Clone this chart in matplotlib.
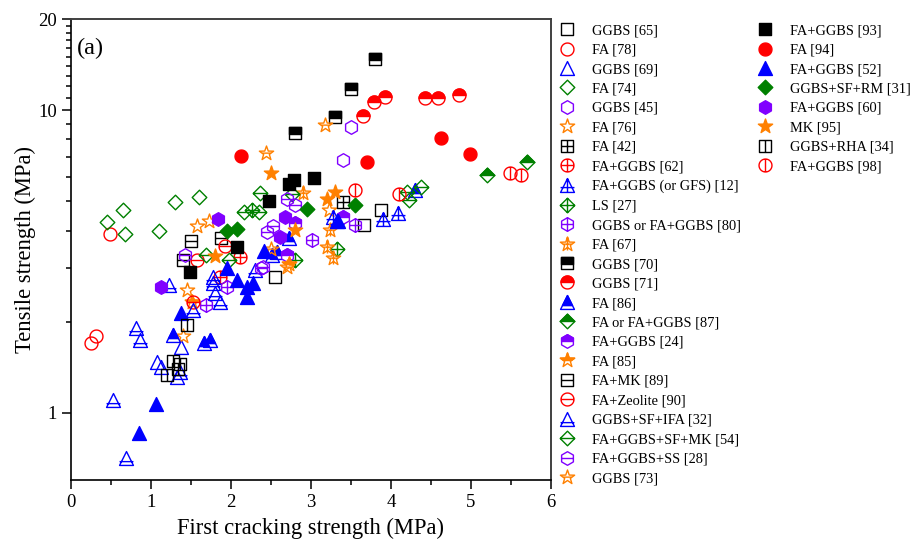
import numpy as np
import matplotlib
matplotlib.use("Agg")
import matplotlib.pyplot as plt
from matplotlib.path import Path
from matplotlib.markers import MarkerStyle
from matplotlib.ticker import FixedLocator, FixedFormatter, NullFormatter, MultipleLocator

plt.rcParams['font.family'] = ['Liberation Serif', 'DejaVu Serif']

# ---------------------------------------------------------------- data
# first cracking strength (MPa) / tensile strength (MPa) per source
x_ggbs65 = [2.55, 3.66, 3.88]
y_ggbs65 = [2.81, 4.17, 4.67]
x_fa78 = [0.25, 0.31, 0.49]
y_fa78 = [1.70, 1.79, 3.89]
x_ggbs69 = [1.07, 1.13, 1.37, 1.32]
y_ggbs69 = [1.47, 1.42, 1.65, 1.31]
x_fa74 = [0.45, 0.65, 0.68, 1.10, 1.30, 1.60]
y_fa74 = [4.27, 4.67, 3.89, 3.98, 4.98, 5.15]
x_ggbs45 = [3.40, 3.50]
y_ggbs45 = [6.84, 8.77]
x_fa76 = [1.57, 1.73, 1.45, 1.40, 3.22]
y_fa76 = [4.14, 4.30, 2.54, 1.79, 4.67]
x_fa42 = [3.40]
y_fa42 = [4.98]
x_fagg62 = [2.11, 1.86]
y_fagg62 = [3.27, 2.81]
x_fagg12 = [3.28, 3.90, 4.09]
y_fagg12 = [4.44, 4.38, 4.56]
x_ls27 = [2.80, 3.32, 2.26]
y_ls27 = [3.19, 3.49, 4.67]
x_gg80 = [1.69, 1.95, 3.01, 3.55]
y_gg80 = [2.27, 2.61, 3.72, 4.17]
x_fa67 = [2.90, 3.24, 3.20, 3.28]
y_fa67 = [5.31, 4.02, 3.53, 3.24]
x_ggbs70 = [2.80, 3.30, 3.50, 3.80]
y_ggbs70 = [8.38, 9.46, 11.7, 14.8]
x_ggbs71 = [3.65, 3.79, 3.93, 4.43, 4.59, 4.85]
y_ggbs71 = [9.55, 10.63, 11.07, 10.93, 10.93, 11.2]
x_fa86 = [1.27, 1.66, 1.74, 2.51, 2.57, 2.72, 4.30]
y_fa86 = [1.81, 1.70, 1.74, 3.32, 3.40, 3.77, 5.44]
x_fa87 = [5.20, 5.70]
y_fa87 = [6.09, 6.75]
x_fagg24 = [2.80, 2.70, 3.40]
y_fagg24 = [4.24, 3.32, 4.44]
x_fa85 = [1.51, 2.72]
y_fa85 = [2.33, 3.10]
x_famk89 = [1.50, 1.40, 1.88]
y_famk89 = [3.69, 3.19, 3.77]
x_faze90 = [1.57, 1.93, 1.53]
y_faze90 = [3.19, 3.56, 2.33]
x_gsi32 = [0.52, 0.69, 0.81, 0.86, 1.22, 1.36, 1.53, 1.77, 1.78, 1.80, 1.86, 2.30, 3.33]
y_gsi32 = [1.10, 0.71, 1.90, 1.74, 2.64, 1.36, 2.18, 2.81, 2.68, 2.48, 2.33, 2.96, 4.30]
x_fgsm54 = [1.69, 1.97, 2.16, 2.35, 2.36, 2.76, 4.20, 4.22, 4.38]
y_fgsm54 = [3.32, 3.21, 4.61, 4.61, 5.31, 5.30, 5.37, 5.04, 5.58]
x_fgss28 = [1.43, 2.37, 2.40, 2.45, 2.53, 2.70, 2.80]
y_fgss28 = [3.32, 3.00, 3.03, 3.96, 4.15, 5.07, 4.86]
x_ggbs73 = [2.44, 3.18, 2.50, 2.70]
y_ggbs73 = [7.19, 8.90, 3.49, 3.03]
x_fagg93 = [1.49, 2.08, 2.48, 2.73, 2.79, 3.04]
y_fagg93 = [2.93, 3.52, 5.00, 5.70, 5.87, 5.95]
x_fa94 = [2.13, 3.70, 4.63, 4.99]
y_fa94 = [7.06, 6.75, 8.06, 7.14]
x_fagg52 = [0.85, 1.06, 1.38, 1.95, 2.08, 2.20, 2.20, 2.28, 2.41, 3.34]
y_fagg52 = [0.86, 1.07, 2.13, 3.00, 2.74, 2.61, 2.42, 2.68, 3.43, 4.30]
x_gsr31 = [1.95, 2.07, 2.95, 3.55]
y_gsr31 = [4.00, 4.05, 4.73, 4.86]
x_fagg60 = [1.13, 1.84, 2.61, 2.68]
y_fagg60 = [2.60, 4.36, 3.81, 4.44]
x_mk95 = [1.80, 2.50, 2.80, 3.20, 3.30]
y_mk95 = [3.29, 6.18, 4.02, 5.07, 5.37]
x_gr34 = [1.20, 1.28, 1.34, 1.36, 1.45]
y_gr34 = [1.33, 1.48, 1.40, 1.45, 1.95]
x_fagg98 = [3.55, 4.10, 5.49, 5.62]
y_fagg98 = [5.44, 5.27, 6.21, 6.10]

x_ticks = [0, 1, 2, 3, 4, 5, 6]
y_ticks = [1, 10, 20]
y_ticklabels = ['1', '10', '20']

BLACK, RED, BLUE = '#000000', '#FF0000', '#0000FF'
GREEN, PURPLE, ORANGE = '#008000', '#8000FF', '#FF8000'

# (label, x, y, shape, style, colour) in drawing order
series = [
    ('GGBS [65]', x_ggbs65, y_ggbs65, 'square', 'open', BLACK),
    ('FA [78]', x_fa78, y_fa78, 'circle', 'open', RED),
    ('GGBS [69]', x_ggbs69, y_ggbs69, 'triangle', 'open', BLUE),
    ('FA [74]', x_fa74, y_fa74, 'diamond', 'open', GREEN),
    ('GGBS [45]', x_ggbs45, y_ggbs45, 'hexagon', 'open', PURPLE),
    ('FA [76]', x_fa76, y_fa76, 'star', 'open', ORANGE),
    ('FA [42]', x_fa42, y_fa42, 'square', 'cross', BLACK),
    ('FA+GGBS [62]', x_fagg62, y_fagg62, 'circle', 'cross', RED),
    ('FA+GGBS (or GFS) [12]', x_fagg12, y_fagg12, 'triangle', 'cross', BLUE),
    ('LS [27]', x_ls27, y_ls27, 'diamond', 'cross', GREEN),
    ('GGBS or FA+GGBS [80]', x_gg80, y_gg80, 'hexagon', 'cross', PURPLE),
    ('FA [67]', x_fa67, y_fa67, 'star', 'cross', ORANGE),
    ('GGBS [70]', x_ggbs70, y_ggbs70, 'square', 'half', BLACK),
    ('GGBS [71]', x_ggbs71, y_ggbs71, 'circle', 'half', RED),
    ('FA [86]', x_fa86, y_fa86, 'triangle', 'half', BLUE),
    ('FA or FA+GGBS [87]', x_fa87, y_fa87, 'diamond', 'half', GREEN),
    ('FA+GGBS [24]', x_fagg24, y_fagg24, 'hexagon', 'half', PURPLE),
    ('FA [85]', x_fa85, y_fa85, 'star', 'half', ORANGE),
    ('FA+MK [89]', x_famk89, y_famk89, 'square', 'hline', BLACK),
    ('FA+Zeolite [90]', x_faze90, y_faze90, 'circle', 'hline', RED),
    ('GGBS+SF+IFA [32]', x_gsi32, y_gsi32, 'triangle', 'hline', BLUE),
    ('FA+GGBS+SF+MK [54]', x_fgsm54, y_fgsm54, 'diamond', 'hline', GREEN),
    ('FA+GGBS+SS [28]', x_fgss28, y_fgss28, 'hexagon', 'hline', PURPLE),
    ('GGBS [73]', x_ggbs73, y_ggbs73, 'star', 'hline', ORANGE),
    ('FA+GGBS [93]', x_fagg93, y_fagg93, 'square', 'filled', BLACK),
    ('FA [94]', x_fa94, y_fa94, 'circle', 'filled', RED),
    ('FA+GGBS [52]', x_fagg52, y_fagg52, 'triangle', 'filled', BLUE),
    ('GGBS+SF+RM [31]', x_gsr31, y_gsr31, 'diamond', 'filled', GREEN),
    ('FA+GGBS [60]', x_fagg60, y_fagg60, 'hexagon', 'filled', PURPLE),
    ('MK [95]', x_mk95, y_mk95, 'star', 'filled', ORANGE),
    ('GGBS+RHA [34]', x_gr34, y_gr34, 'square', 'vline', BLACK),
    ('FA+GGBS [98]', x_fagg98, y_fagg98, 'circle', 'vline', RED),
]

# ---------------------------------------------------------------- marker shapes
SIZES = {'square': 8.3, 'circle': 9.3, 'triangle': 10.0,
         'diamond': 10.5, 'hexagon': 9.8, 'star': 10.8}
HALF_CUT = {'square': -0.1, 'circle': 0.0, 'triangle': -0.45,
            'diamond': 0.0, 'hexagon': 0.0, 'star': 0.0}


def outline(shape):
    if shape == 'square':
        return np.array([[-1, -1], [1, -1], [1, 1], [-1, 1]], float)
    if shape == 'circle':
        t = np.linspace(0, 2 * np.pi, 65)[:-1]
        return np.column_stack([np.cos(t), np.sin(t)])
    if shape == 'triangle':
        return np.array([[0, 1], [-1, -1], [1, -1]], float)
    if shape == 'diamond':
        return np.array([[0, 1], [-1, 0], [0, -1], [1, 0]], float)
    if shape == 'hexagon':
        a = np.deg2rad(90 + 60 * np.arange(6))
        return np.column_stack([np.cos(a), np.sin(a)])
    if shape == 'star':
        a = np.deg2rad(90 + 36 * np.arange(10))
        r = np.where(np.arange(10) % 2 == 0, 1.0, 0.40)
        return np.column_stack([r * np.cos(a), r * np.sin(a)])


def inner_lines(shape, style):
    hx = {'hexagon': 0.866, 'star': 0.55}.get(shape, 1.0)
    hy = {'triangle': -0.45, 'star': 0.05}.get(shape, 0.0)
    if shape == 'triangle' and style == 'cross':
        hy = -0.3
    h = [((-hx, hy), (hx, hy))]
    v = [((0, -0.8 if shape == 'star' else -1), (0, 1))]
    return {'cross': h + v, 'hline': h, 'vline': v}.get(style, [])


def marker_path(poly, lines=()):
    verts = list(poly) + [poly[0]]
    codes = [Path.MOVETO] + [Path.LINETO] * (len(poly) - 1) + [Path.CLOSEPOLY]
    for a, b in lines:
        verts += [a, b]
        codes += [Path.MOVETO, Path.LINETO]
    return Path(np.array(verts, float), codes)


def clip_top(poly, c):
    out = []
    n = len(poly)
    for i in range(n):
        p, q = poly[i], poly[(i + 1) % n]
        pin, qin = p[1] >= c, q[1] >= c
        if pin:
            out.append(p)
        if pin != qin:
            t = (c - p[1]) / (q[1] - p[1])
            out.append(p + t * (q - p))
    return np.array(out)


def draw_series(ax, x, y, shape, style, color, label):
    ms = SIZES[shape]
    mew = 1.0
    poly = outline(shape)
    kw = dict(ls='none', ms=ms, mew=mew, mec=color)
    if style == 'filled':
        m = MarkerStyle(marker_path(poly), joinstyle='miter')
        h, = ax.plot(x, y, marker=m, mfc=color, label=label, **kw)
        return h
    if style == 'half':
        base = MarkerStyle(marker_path(poly), joinstyle='miter')
        top = MarkerStyle(marker_path(clip_top(poly, HALF_CUT[shape])), joinstyle='miter')
        h1, = ax.plot(x, y, marker=base, mfc='white', **kw)
        h2, = ax.plot(x, y, marker=top, mfc=color, **kw)
        return (h1, h2)
    m = MarkerStyle(marker_path(poly, inner_lines(shape, style)), joinstyle='miter')
    h, = ax.plot(x, y, marker=m, mfc='none', label=label, **kw)
    return h


# ---------------------------------------------------------------- figure
fig = plt.figure(figsize=(9.2, 5.49), dpi=100)
ax = fig.add_axes([71 / 920, 1 - 480 / 549, 480 / 920, 461 / 549])

handles, labels = [], []
for label, x, y, shape, style, color in series:
    handles.append(draw_series(ax, x, y, shape, style, color, label))
    labels.append(label)

ax.set_xlim(0, 6)
ax.set_yscale('log')
ax.set_ylim(0.6, 20)

ax.xaxis.set_major_locator(FixedLocator(x_ticks))
ax.xaxis.set_minor_locator(MultipleLocator(0.5))
ax.yaxis.set_major_locator(FixedLocator(y_ticks))
ax.yaxis.set_major_formatter(FixedFormatter(y_ticklabels))
ax.yaxis.set_minor_locator(FixedLocator(list(range(2, 10)) + list(range(11, 20))))
ax.yaxis.set_minor_formatter(NullFormatter())

ax.tick_params(which='both', direction='out', top=False, right=False,
               labelsize=13.5, width=1.1, colors='black')
ax.tick_params(which='major', length=6.5)
ax.tick_params(which='minor', length=3.5)
for side in ('left', 'bottom'):
    ax.spines[side].set_linewidth(1.2)
for side in ('top', 'right'):
    ax.spines[side].set_linewidth(1.4)
    ax.spines[side].set_color('#404040')

ax.set_xlabel('First cracking strength (MPa)', fontsize=16.3, labelpad=5)
ax.set_ylabel('Tensile strength (MPa)', fontsize=16.3, labelpad=2)
ax.text(0.012, 0.96, '(a)', transform=ax.transAxes, fontsize=17.5, va='top', ha='left')

leg_kw = dict(loc='upper left', frameon=False, numpoints=1, fontsize=10.4,
              handlelength=1.45, handletextpad=0.95, labelspacing=0.44,
              borderpad=0, borderaxespad=0)
fig.legend(handles[:24], labels[:24], bbox_to_anchor=(557 / 920, 1 - 24 / 549), **leg_kw)
fig.legend(handles[24:], labels[24:], bbox_to_anchor=(755 / 920, 1 - 24 / 549), **leg_kw)

fig.savefig('out.png', dpi=100)
